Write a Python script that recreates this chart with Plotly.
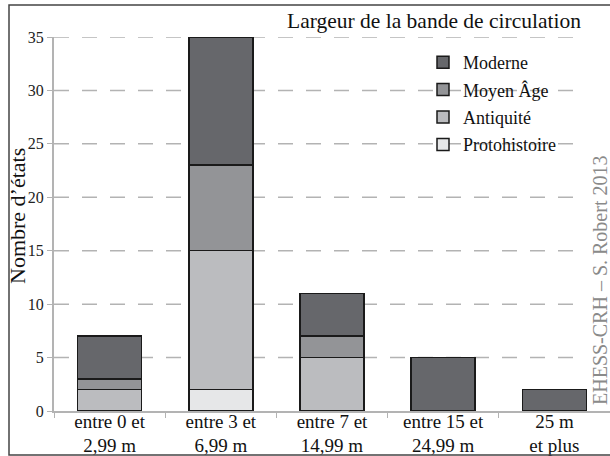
import plotly.graph_objects as go

categories = ["entre 0 et<br>2,99 m", "entre 3 et<br>6,99 m", "entre 7 et<br>14,99 m",
              "entre 15 et<br>24,99 m", "25 m<br>et plus"]
protohistoire = [0, 2, 0, 0, 0]
antiquite = [2, 13, 5, 0, 0]
moyen_age = [1, 8, 2, 0, 0]
moderne = [4, 12, 4, 5, 2]
y_ticks = [0, 5, 10, 15, 20, 25, 30, 35]

series = [
    ("Protohistoire", protohistoire, "#e6e7e8", 4),
    ("Antiquité", antiquite, "#bbbcbf", 3),
    ("Moyen Âge", moyen_age, "#939497", 2),
    ("Moderne", moderne, "#66676b", 1),
]

FONT = "Liberation Serif"

fig = go.Figure()
for name, vals, col, rank in series:
    fig.add_trace(go.Bar(
        x=categories, y=vals, name=name, legendgroup=name, legendrank=rank,
        marker=dict(color=col, line=dict(color="#1a1a1a", width=1.5)),
    ))

W, H = 610, 456
L, R, T, B = 54, 0, 37, 45
pw = W - L - R
ph = H - T - B

def px_x(p):
    return (p - L) / pw

def px_y(p):
    return (H - B - p) / ph

shapes = []
for v in y_ticks[1:]:
    shapes.append(dict(type="line", xref="paper", yref="y", x0=0, x1=px_x(583),
                       y0=v, y1=v, layer="below",
                       line=dict(color="#b3b3b3", width=1.5, dash="15px,13px")))
shapes.append(dict(type="rect", xref="paper", yref="paper",
                   x0=px_x(9), x1=px_x(640), y0=px_y(455), y1=px_y(5),
                   line=dict(color="#444444", width=1.5)))

fig.update_layout(
    width=W, height=H,
    margin=dict(l=L, r=R, t=T, b=B, autoexpand=False),
    barmode="stack", bargap=0.425,
    paper_bgcolor="white", plot_bgcolor="white",
    font=dict(family=FONT, color="#111111"),
    shapes=shapes,
    showlegend=True,
    legend=dict(x=px_x(423), y=px_y(44), xanchor="left", yanchor="top",
                traceorder="grouped", tracegroupgap=1,
                font=dict(size=18, family=FONT, color="#111111"),
                bgcolor="rgba(0,0,0,0)"),
    annotations=[
        dict(text="Largeur de la bande de circulation", xref="paper", yref="paper",
             x=px_x(583), y=px_y(21), xanchor="right", yanchor="middle", showarrow=False,
             font=dict(size=21.5, family=FONT, color="#111111")),
        dict(text="Nombre d’états", xref="paper", yref="paper",
             x=px_x(17), y=px_y(216), xanchor="center", yanchor="middle", showarrow=False,
             textangle=-90, font=dict(size=22, family=FONT, color="#111111")),
        dict(text="EHESS-CRH – S. Robert 2013", xref="paper", yref="paper",
             x=px_x(600), y=px_y(281), xanchor="center", yanchor="middle", showarrow=False,
             textangle=-90, font=dict(size=20, family=FONT, color="#8a8a8a")),
    ],
)

fig.update_xaxes(
    showline=True, linecolor="#b3b3b3", linewidth=1.5, automargin=False,
    ticks="outside", tickson="boundaries", ticklen=5, tickcolor="#b3b3b3",
    ticklabelstandoff=-8,
    showgrid=False, tickfont=dict(size=19, family=FONT, color="#111111"),
)
fig.update_yaxes(
    range=[0, 35], tickvals=y_ticks, automargin=False,
    showline=True, linecolor="#b3b3b3", linewidth=2,
    ticks="outside", ticklen=5, tickcolor="#b3b3b3",
    showgrid=False, zeroline=False,
    tickfont=dict(size=16, family=FONT, color="#222222"),
)

fig.write_html("out.html", config={"displayModeBar": False},
               post_script="document.body.style.margin='0';document.body.style.overflow='hidden';")
